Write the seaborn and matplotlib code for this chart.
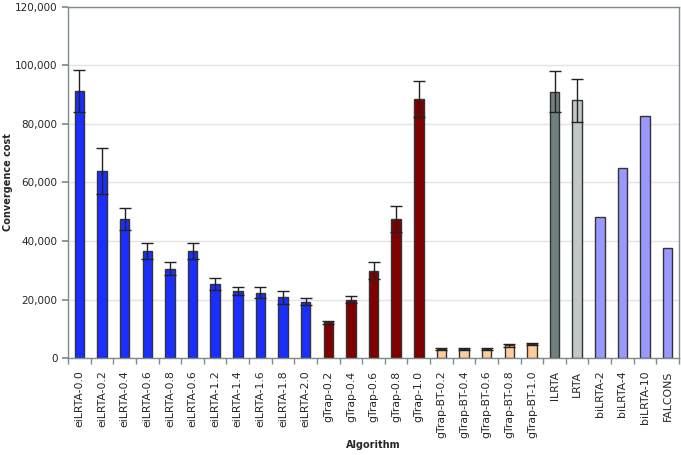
import numpy as np
import pandas as pd
import matplotlib
matplotlib.use("Agg")
import matplotlib.pyplot as plt
import seaborn as sns
from matplotlib.ticker import FuncFormatter, FixedLocator

# ── Data ─────────────────────────────────────────────────────────
algorithms = [
    "eiLRTA-0.0", "eiLRTA-0.2", "eiLRTA-0.4", "eiLRTA-0.6", "eiLRTA-0.8",
    "eiLRTA-0.6", "eiLRTA-1.2", "eiLRTA-1.4", "eiLRTA-1.6", "eiLRTA-1.8",
    "eiLRTA-2.0", "gTrap-0.2", "gTrap-0.4", "gTrap-0.6", "gTrap-0.8",
    "gTrap-1.0", "gTrap-BT-0.2", "gTrap-BT-0.4", "gTrap-BT-0.6",
    "gTrap-BT-0.8", "gTrap-BT-1.0", "lLRTA", "LRTA", "biLRTA-2",
    "biLRTA-4", "biLRTA-10", "FALCONS",
]
cost = [
    91300, 63900, 47500, 36700, 30600, 36700, 25200, 22800, 22300, 20700,
    19200, 12200, 20000, 29900, 47500, 88400, 3000, 3000, 3000, 4400,
    4700, 91000, 88000, 48200, 65100, 82800, 37700,
]
err = [
    7100, 7800, 3800, 2700, 2200, 2700, 2000, 1400, 1900, 2300,
    1200, 600, 1200, 2900, 4500, 6200, 300, 300, 300, 500,
    400, 7100, 7500, 0, 0, 0, 0,
]
groups = (["eiLRTA"] * 11 + ["gTrap"] * 5 + ["gTrap-BT"] * 5
          + ["lLRTA", "LRTA"] + ["other"] * 4)

group_colors = {
    "eiLRTA": "#1a2fff",
    "gTrap": "#800000",
    "gTrap-BT": "#ffcc99",
    "lLRTA": "#708080",
    "LRTA": "#c0c8c8",
    "other": "#9999ff",
}

df = pd.DataFrame({
    "slot": [str(i) for i in range(len(algorithms))],
    "cost": cost,
    "err": err,
    "group": groups,
})

# ── Plot ─────────────────────────────────────────────────────────
sns.set_theme(style="white")
plt.rcParams["font.family"] = ["DejaVu Sans"]

fig = plt.figure(figsize=(6.81, 4.55), dpi=100)
ax = fig.add_axes([0.1, 0.213, 0.897, 0.772])

sns.barplot(data=df, x="slot", y="cost", hue="group", palette=group_colors,
            dodge=False, width=0.42, edgecolor="#333333", linewidth=1,
            saturation=1, legend=False, ax=ax, errorbar=None)

has_err = df["err"] > 0
ax.errorbar(np.arange(len(df))[has_err], df["cost"][has_err],
            yerr=df["err"][has_err], fmt="none", ecolor="#222222",
            elinewidth=1, capsize=4, capthick=1)

ax.set_xlim(-0.5, len(df) - 0.5)
ax.set_ylim(0, 120000)
ax.set_yticks(range(0, 120001, 20000))
ax.yaxis.set_major_formatter(FuncFormatter(lambda v, p: f"{int(v):,}"))
ax.yaxis.grid(True, color="#e3e3e3", linewidth=1)
ax.set_axisbelow(True)

ax.set_xticks(range(len(df)))
ax.set_xticklabels(algorithms, rotation=90, fontsize=7.8)
ax.xaxis.set_minor_locator(FixedLocator(np.arange(-0.5, len(df), 1)))
ax.tick_params(axis="x", which="major", length=0, pad=9)
ax.tick_params(axis="x", which="minor", length=4, color="#7f8c8c",
               direction="out", bottom=True)
ax.tick_params(axis="y", length=4, color="#7f8c8c", direction="out",
               left=True, labelsize=7.5)

for s in ax.spines.values():
    s.set_color("#7f8c8c")
    s.set_linewidth(1)

ax.set_xlabel("Algorithm", fontsize=7, fontweight="bold", labelpad=1)
ax.set_ylabel("Convergence cost", fontsize=7, fontweight="bold")
ax.yaxis.set_label_coords(-0.09, 0.5)

fig.savefig("out.png", dpi=100)
plt.close()
